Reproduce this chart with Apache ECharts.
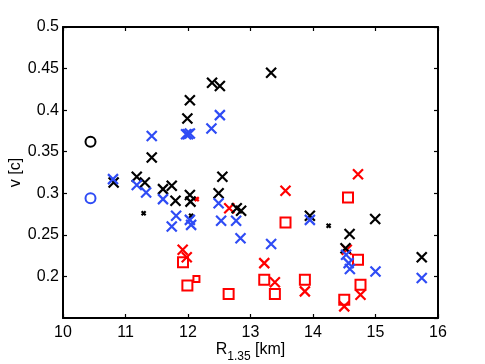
<!DOCTYPE html>
<html><head><meta charset="utf-8">
<script src="https://cdn.jsdelivr.net/npm/echarts@6/dist/echarts.min.js"></script>
<style>html,body{margin:0;padding:0;background:#fff}#c{width:485px;height:364px}</style>
</head><body><div id="c"></div>
<script>
const xTicks = [10, 11, 12, 13, 14, 15, 16];
const yTicks = [0.15, 0.2, 0.25, 0.3, 0.35, 0.4, 0.45, 0.5];

const blackCircle = [[10.44, 0.362]];
const blueCircle = [[10.44, 0.294]];

const blackX = [
  [13.33, 0.445], [12.385, 0.433], [12.51, 0.429], [12.03, 0.412], [11.99, 0.390],
  [11.42, 0.343], [10.81, 0.313], [11.18, 0.320], [11.31, 0.313], [11.60, 0.305],
  [11.74, 0.309], [11.80, 0.291], [12.03, 0.298], [12.04, 0.290], [12.55, 0.320],
  [12.49, 0.300], [12.78, 0.282], [12.85, 0.279], [13.95, 0.273], [14.995, 0.269],
  [14.585, 0.251], [14.52, 0.234], [15.74, 0.223]
];
const blackSmallX = [[11.29, 0.276], [14.25, 0.261], [12.05, 0.273]];

const blueX = [
  [11.42, 0.369], [11.97, 0.371], [12.00, 0.371], [12.03, 0.372], [12.375, 0.378],
  [12.51, 0.394], [10.80, 0.317], [11.18, 0.310], [11.33, 0.301], [11.60, 0.293],
  [11.81, 0.273], [11.74, 0.260], [12.03, 0.268], [12.05, 0.262], [12.49, 0.288],
  [12.53, 0.267], [12.77, 0.267], [12.84, 0.246], [13.33, 0.239], [13.95, 0.268],
  [14.53, 0.226], [14.57, 0.216], [14.59, 0.209], [15.00, 0.206], [15.74, 0.198]
];

const redX = [
  [14.72, 0.323], [13.56, 0.303], [12.66, 0.282], [11.915, 0.232], [11.98, 0.223],
  [13.22, 0.216], [13.39, 0.193], [13.87, 0.182], [14.50, 0.164], [14.54, 0.232],
  [14.76, 0.178]
];
const redSmallX = [[12.14, 0.293]];

const redSquare = [
  [14.56, 0.295], [13.56, 0.265], [11.92, 0.217], [11.99, 0.189], [12.65, 0.179],
  [13.22, 0.196], [13.39, 0.179], [13.87, 0.196], [14.50, 0.172], [14.72, 0.220],
  [14.76, 0.190]
];
const redSmallSquare = [[12.135, 0.197]];

const XPATH = 'path://M0,0L10,10M10,0L0,10';
const BLUE = '#2f4cf5';
const RED = '#ff0000';
const FONT = 'Liberation Sans';

function xs(data, color, size, width, z) {
  return { type: 'scatter', data: data, symbol: XPATH, symbolSize: size, z: z,
    itemStyle: { color: 'transparent', borderColor: color, borderWidth: width, opacity: 1 },
    emphasis: { disabled: true }, animation: false };
}
function shape(data, sym, color, size, width, z) {
  return { type: 'scatter', data: data, symbol: sym, symbolSize: size, z: z,
    itemStyle: { color: 'transparent', borderColor: color, borderWidth: width, opacity: 1 },
    emphasis: { disabled: true }, animation: false };
}

const axisLine = { show: true, lineStyle: { color: '#000', width: 2 } };
const tick = { show: true, inside: true, length: 4, lineStyle: { color: '#000', width: 1.2 } };

const chart = echarts.init(document.getElementById('c'), null, { renderer: 'canvas' });
chart.setOption({
  backgroundColor: '#fff',
  animation: false,
  grid: { left: 63, right: 47, top: 27, bottom: 46, containLabel: false, outerBoundsMode: 'none' },
  xAxis: [
    { type: 'value', min: xTicks[0], max: xTicks[xTicks.length - 1], interval: 1, position: 'bottom',
      axisLine: axisLine, axisTick: tick, splitLine: { show: false },
      axisLabel: { color: '#000', fontFamily: FONT, fontSize: 16, margin: 7 },
      name: '{r|R}{s|1.35}{r| [km]}', nameLocation: 'middle', nameGap: 19, nameMoveOverlap: false,
      nameTextStyle: { rich: {
        r: { fontFamily: FONT, fontSize: 16, color: '#000' },
        s: { fontFamily: FONT, fontSize: 12, color: '#000', padding: [14, 0, 0, 0] } } } },
    { type: 'value', min: xTicks[0], max: xTicks[xTicks.length - 1], interval: 1, position: 'top',
      axisLine: axisLine, axisTick: tick, axisLabel: { show: false }, splitLine: { show: false } }
  ],
  yAxis: [
    { type: 'value', min: yTicks[0], max: yTicks[yTicks.length - 1], interval: 0.05, position: 'left',
      axisLine: axisLine, axisTick: tick, splitLine: { show: false },
      axisLabel: { color: '#000', fontFamily: FONT, fontSize: 16, margin: 4, showMinLabel: false,
        formatter: v => String(+v.toFixed(2)) },
      name: 'v [c]', nameLocation: 'middle', nameGap: 39, nameMoveOverlap: false,
      nameTextStyle: { fontFamily: FONT, fontSize: 16, color: '#000' } },
    { type: 'value', min: yTicks[0], max: yTicks[yTicks.length - 1], interval: 0.05, position: 'right',
      axisLine: axisLine, axisTick: tick, axisLabel: { show: false }, splitLine: { show: false } }
  ],
  series: [
    shape(redSquare, 'rect', RED, 10, 2, 2),
    shape(redSmallSquare, 'rect', RED, 6, 2, 2),
    xs(redX, RED, 10, 2.2, 3),
    xs(redSmallX, RED, 4, 2.2, 3),
    xs(blackX, '#000', 10, 2.2, 4),
    xs(blackSmallX, '#000', 4, 2.2, 4),
    shape(blackCircle, 'circle', '#000', 10, 2, 4),
    xs(blueX, BLUE, 10, 2.2, 5),
    shape(blueCircle, 'circle', BLUE, 10, 2, 5)
  ]
});
</script></body></html>
